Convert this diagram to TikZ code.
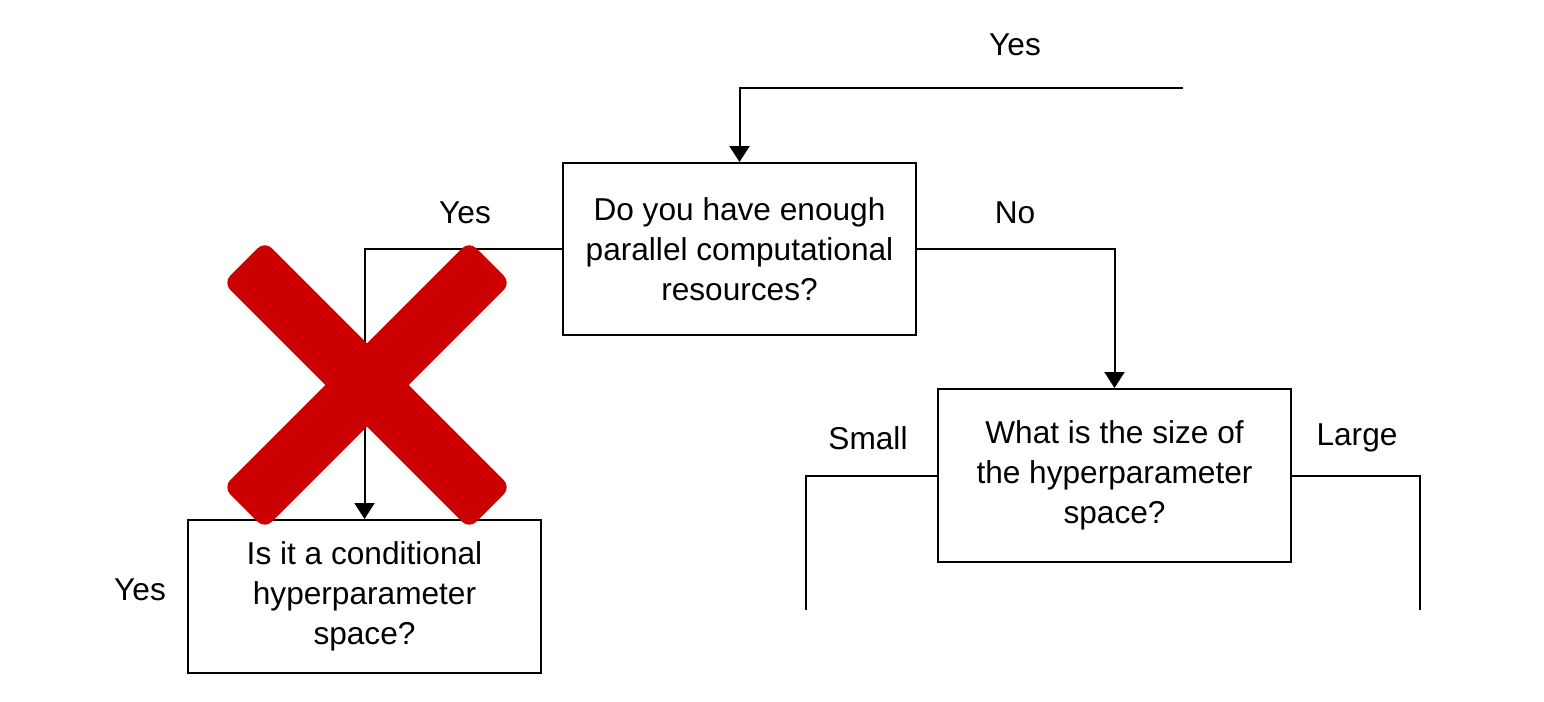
\documentclass[tikz,border=0pt]{standalone}
\usepackage{xcolor}
\usepackage{fontspec}
\setmainfont{Liberation Sans}
\usetikzlibrary{arrows.meta}
\definecolor{crossRed}{HTML}{CC0000}

\begin{document}
\begin{tikzpicture}
[x=0.02cm, y=-0.02cm,
 lineDecorate/.style={-{Triangle[length=0.32cm,width=0.4cm]},line width=0.04cm},
 plainLine/.style={line width=0.04cm},
 boxDecorate/.style={shape=rectangle,draw,line width=0.04cm,minimum width=7.06cm,align=center,inner sep=0pt,font=\fontsize{18}{22.8}\selectfont},
 labelDecorate/.style={inner sep=0pt,font=\fontsize{18}{22.8}\selectfont},
 crossDecorate/.style={shape=rectangle,fill=crossRed,rounded corners=0.2cm,minimum width=6.96cm,minimum height=1.18cm}]

 \useasboundingbox (0,0) rectangle (1544,702);

 % boxes
 \node (B1) at (739.5,249) [boxDecorate, minimum height=3.44cm] {Do you have enough\\parallel computational\\resources?};
 \node (B2) at (364.5,596.5) [boxDecorate, minimum height=3.06cm] {Is it a conditional\\hyperparameter\\space?};
 \node (B3) at (1114.5,475.5) [boxDecorate, minimum height=3.46cm] {What is the size of\\the hyperparameter\\space?};

 % labels
 \node (yesTop) at (1015,45) [labelDecorate] {Yes};
 \node (yesLeft) at (465,213) [labelDecorate] {Yes};
 \node (noRight) at (1015,213) [labelDecorate] {No};
 \node (smallLbl) at (868,438) [labelDecorate] {Small};
 \node (largeLbl) at (1357,438) [labelDecorate] {Large};
 \node (yesBottom) at (140,590) [labelDecorate] {Yes};

 % free ends
 \coordinate (topEnd) at (1183,88);
 \coordinate (smallEnd) at (806,610);
 \coordinate (largeEnd) at (1420,610);

 \draw[lineDecorate] (topEnd) -| (B1.north);
 \draw[lineDecorate] (B1.west) -| (B2.north);
 \draw[lineDecorate] (B1.east) -| (B3.north);
 \draw[plainLine] (B3.west) -| (smallEnd);
 \draw[plainLine] (B3.east) -| (largeEnd);

 % red cross
 \node (crossA) at (367,385) [crossDecorate, rotate=45] {};
 \node (crossB) at (367,385) [crossDecorate, rotate=-45] {};
\end{tikzpicture}
\end{document}
